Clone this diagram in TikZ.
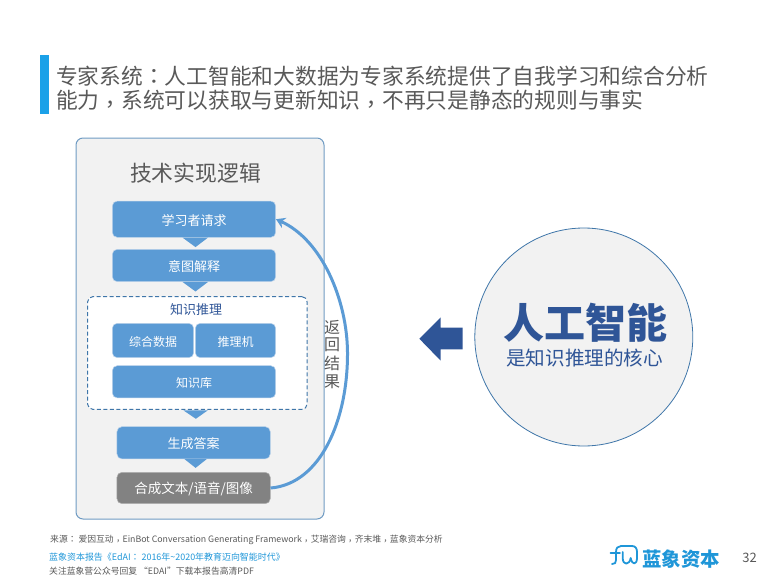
\documentclass[tikz,border=0pt]{standalone}
\usepackage{fontspec}
\setmainfont{Noto Sans CJK SC}
\newfontfamily\tcf{Noto Sans CJK TC}
\usetikzlibrary{calc,arrows.meta}
\definecolor{steel}{HTML}{5B9BD5}
\definecolor{edge}{HTML}{BDD3EA}
\definecolor{panelfill}{HTML}{F2F2F2}
\definecolor{paneledge}{HTML}{6F9BC3}
\definecolor{dashblue}{HTML}{3F76A9}
\definecolor{navy}{HTML}{2F5597}
\definecolor{greytxt}{HTML}{595959}
\definecolor{cyanbar}{HTML}{1BA1E8}
\definecolor{logoblue}{HTML}{1F96D8}
\newcommand{\fs}[1]{\fontsize{#1}{#1}\selectfont}
\newcommand{\lbl}[1]{\raisebox{-1.2pt}[\height][\depth]{#1}}
\newcommand{\cm}{\raisebox{-.18em}{\tcf ，}}
\newcommand{\cl}{{\tcf ：}}
\tikzset{
  x=1pt,y=-1pt,
  block/.style={rectangle,rounded corners=5pt,fill=steel,draw=edge,line width=.5pt,inner sep=0pt,text=white,font=\fs{13}},
  greyblock/.style={block,fill=gray!98,draw=gray!60},
  dropdown/.style={fill=steel},
  plain/.style={inner sep=0pt,anchor=center},
  foot/.style={inner sep=0pt,anchor=west,font=\fs{8.8}},
}
\begin{document}
\begin{tikzpicture}
\useasboundingbox (0,0) rectangle (769,578);
% heading
\fill[cyanbar] (40,55) rectangle (48.7,114);
\node[plain,anchor=west,text=greytxt,font=\fs{21.75}] (t1) at (56,76) {专家系统\cl 人工智能和大数据为专家系统提供了自我学习和综合分析};
\node[plain,anchor=west,text=greytxt,font=\fs{21.75}] (t2) at (56,101) {能力\cm 系统可以获取与更新知识\cm 不再只是静态的规则与事实};
% panel
\node[rectangle,rounded corners=7pt,fill=panelfill,draw=paneledge,line width=1pt,minimum width=248pt,minimum height=381pt,inner sep=0pt] (panel) at (200,328.5) {};
\node[plain,text=greytxt,font=\fs{21.8}] (ptitle) at (195.5,173.5) {技术实现逻辑};
% dashed box
\node[rectangle,rounded corners=5pt,fill=white,draw=dashblue,line width=1pt,dash pattern=on 4pt off 2.5pt,minimum width=219.3pt,minimum height=112.6pt,inner sep=0pt] (infer) at (197.35,353) {};
% blocks
\node[block,minimum width=163.4pt,minimum height=36.3pt] (req) at (194,219.2) {\lbl{学习者请求}};
\node[block,minimum width=163.4pt,minimum height=32.4pt] (intent) at (194,265.5) {\lbl{意图解释}};
\node[plain,text=navy,font=\fs{13}] (infert) at (196,310) {知识推理};
\node[block,minimum width=81.4pt,minimum height=34.4pt,font=\fs{12}] (data) at (153,340.5) {\lbl{综合数据}};
\node[block,minimum width=80.4pt,minimum height=34.4pt,font=\fs{12}] (engine) at (235.5,340.5) {\lbl{推理机}};
\node[block,minimum width=163.4pt,minimum height=32.3pt,font=\fs{12}] (kb) at (194,381.8) {\lbl{知识库}};
\node[block,minimum width=153.3pt,minimum height=32.3pt] (gen) at (193.6,442.8) {\lbl{生成答案}};
\node[greyblock,minimum width=153.3pt,minimum height=31.4pt,font=\fs{13.5}] (out) at (193.6,488) {\lbl{合成文本/语音/图像}};
% drop connectors
\fill[dropdown] ($(req.south)+(-11.5,0)$) -- ($(req.south)+(1.5,9.5)$) -- ($(req.south)+(14,0)$) -- cycle;
\fill[dropdown] ($(intent.south)+(-11.5,0)$) -- ($(intent.south)+(1.5,9.5)$) -- ($(intent.south)+(14,0)$) -- cycle;
\fill[dropdown] ($(infer.south)+(-14,.5)$) -- ($(infer.south)+(-1.5,9)$) -- ($(infer.south)+(10.5,.5)$) -- cycle;
\fill[dropdown] ($(gen.south)+(-9,0)$) -- ($(gen.south)+(2,8.7)$) -- ($(gen.south)+(13,0)$) -- cycle;
% return label and arrow
\node[plain,text=greytxt,font=\fs{16}] (r1) at (332,327) {返};
\node[plain,text=greytxt,font=\fs{16}] (r2) at (332,345) {回};
\node[plain,text=greytxt,font=\fs{16}] (r3) at (332,363.5) {结};
\node[plain,text=greytxt,font=\fs{16}] (r4) at (332,382) {果};
\draw[steel,line width=3pt,-{Stealth[length=9pt,width=11pt]}] (out.east) .. controls +(50,-4) and (348,420) .. (347.5,352) .. controls (347,300) and (322,240) .. (req.east);
% circle + big arrow
\node[circle,fill=panelfill,draw=dashblue,line width=.8pt,minimum size=218pt,inner sep=0pt] (ai) at (583.8,337) {};
\node[plain,text=navy,font=\fs{41}\bfseries] (ait) at ($(ai.center)+(1.5,-14.5)$) {人工智能};
\node[plain,text=navy,font=\fs{19.6}] (ais) at ($(ai.center)+(.8,21)$) {是知识推理的核心};
\fill[navy] (419.3,338.7) -- (440.7,317.3) -- (440.7,327.7) -- (462.7,327.7) -- (462.7,349.3) -- (440.7,349.3) -- (440.7,360.7) -- cycle;
% footer
\node[foot,text=greytxt] (src) at (50,540) {来源\cl\ 爱因互动\cm EinBot Conversation Generating Framework\cm 艾瑞咨询\cm 齐末堆\cm 蓝象资本分析};
\node[foot,text=logoblue,font=\fs{8.95}] (rep) at (49,557) {蓝象资本报告《EdAI\cl\ 2016年\textasciitilde 2020年教育迈向智能时代》};
\node[foot,text=greytxt] (fol) at (49,571) {关注蓝象营公众号回复 “EDAI”下载本报告高清PDF};
% logo
\draw[logoblue,line width=1.8pt,line cap=round] (610.5,553) -- (620,553);
\draw[logoblue,line width=1.8pt,line cap=round,line join=round] (612,564) .. controls (615,564) and (616,563) .. (616,560) -- (616,552) .. controls (616,548) and (618,546) .. (621,546) -- (632,546) .. controls (635.5,546) and (637,548.5) .. (637,552) -- (637,558) .. controls (637,565) and (632,565.5) .. (630.7,558) .. controls (629.5,565.5) and (622.7,565.5) .. (622.7,558) -- (622.7,552);
\node[plain,anchor=west,text=logoblue,font=\fs{19.4}\bfseries] (logo) at (642,559) {蓝象资本};
\node[plain,text=greytxt,font=\fs{13}] (pg) at (749.5,558) {32};
\end{tikzpicture}
\end{document}
